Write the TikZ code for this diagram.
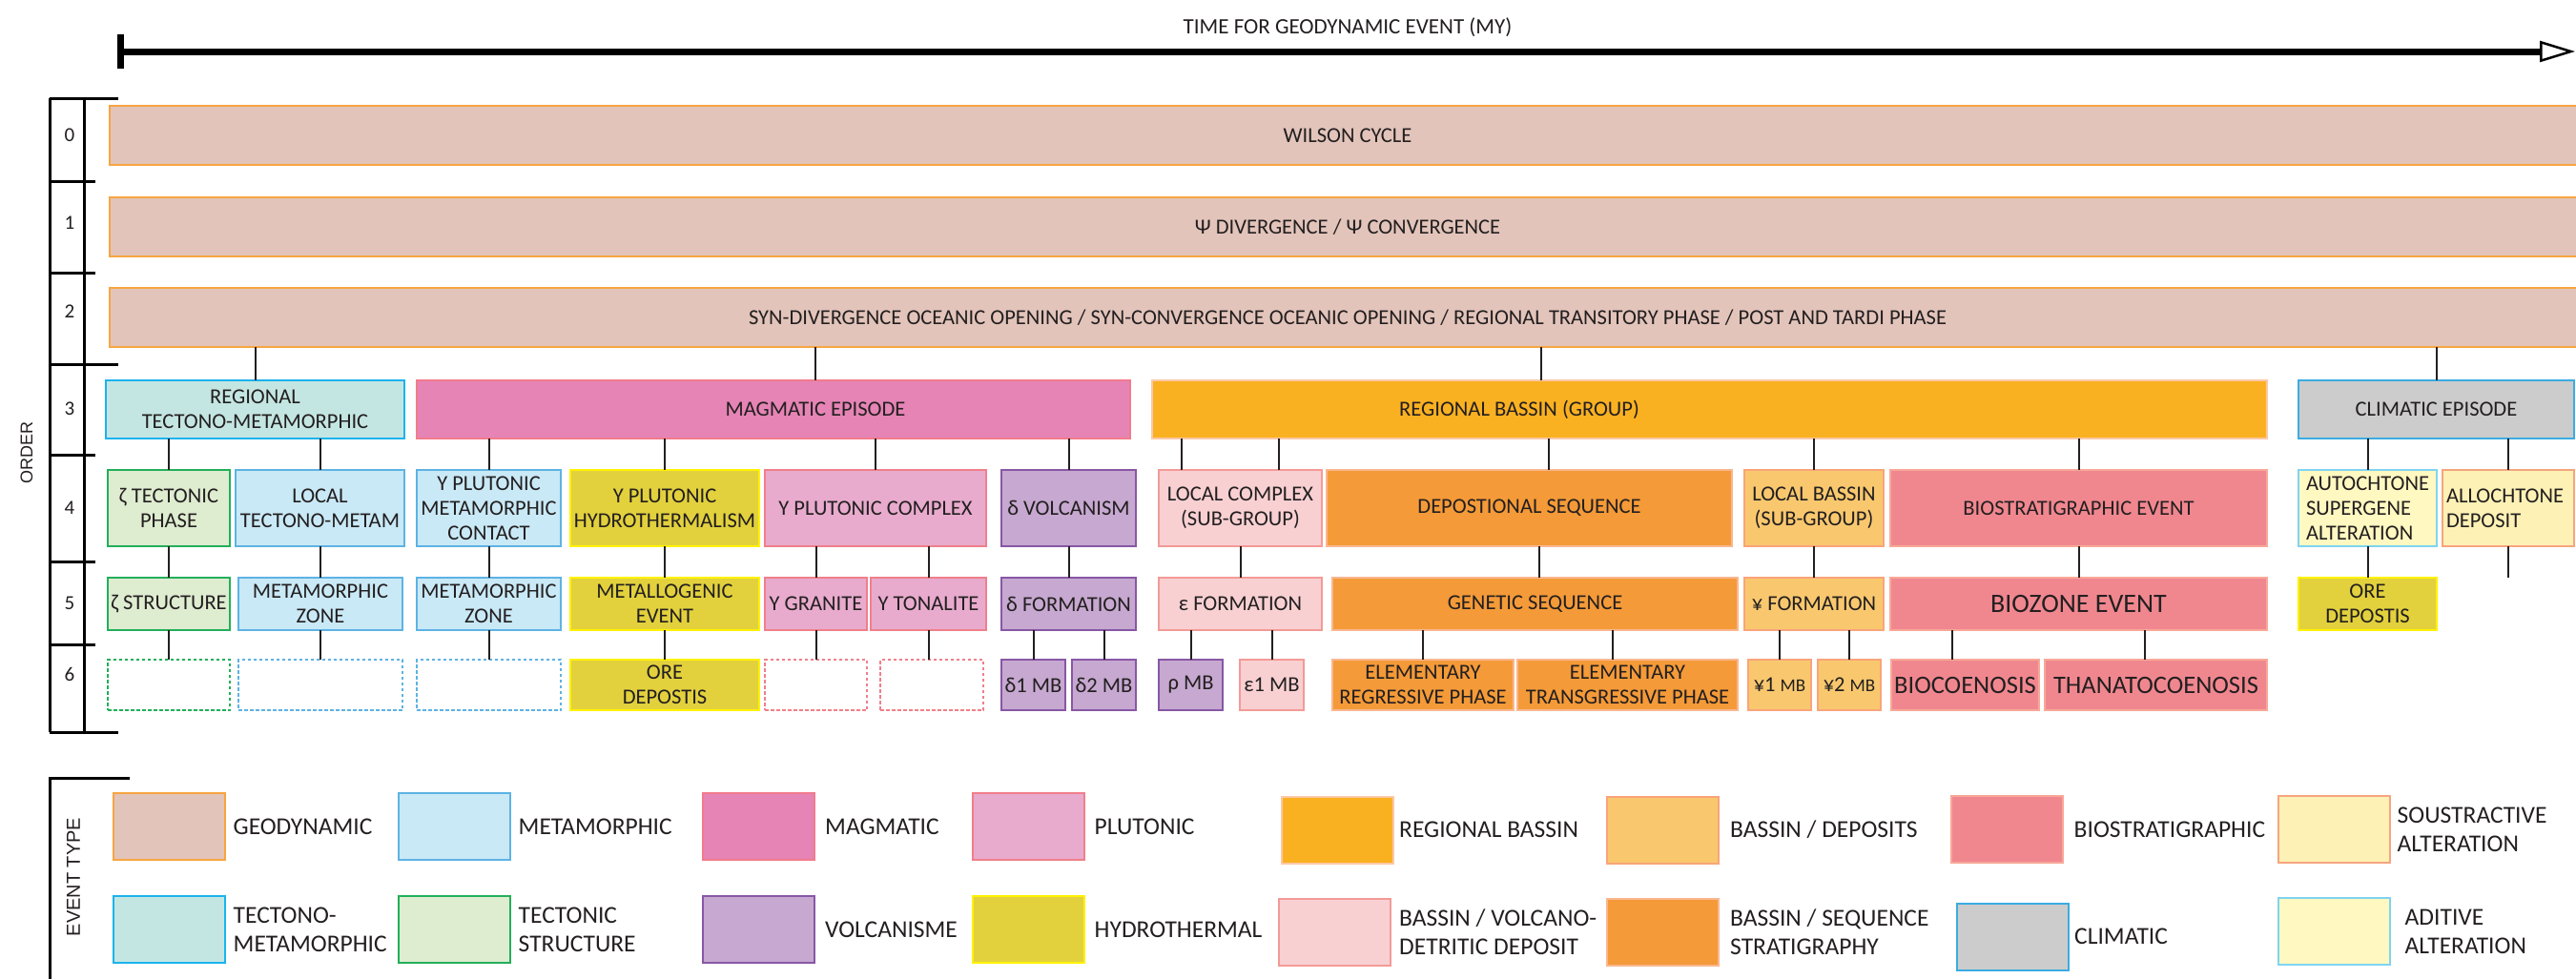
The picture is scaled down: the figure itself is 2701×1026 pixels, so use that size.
\documentclass[tikz,border=0pt]{standalone}
\usepackage{fontspec}
\setmainfont{Carlito}
\newfontfamily\axisfont{Liberation Sans}
\usepackage{xcolor}
\definecolor{ink}{HTML}{231F20}
\definecolor{geo-fill}{HTML}{E2C4BA}
\definecolor{geo-line}{HTML}{F7A541}
\definecolor{met-fill}{HTML}{C9E9F6}
\definecolor{met-line}{HTML}{5DB3E4}
\definecolor{mag-fill}{HTML}{E584B5}
\definecolor{mag-line}{HTML}{F27B8C}
\definecolor{plu-fill}{HTML}{E8ABCD}
\definecolor{plu-line}{HTML}{F07F8A}
\definecolor{reg-fill}{HTML}{FAB121}
\definecolor{reg-line}{HTML}{FBC8A8}
\definecolor{dep-fill}{HTML}{F9C86E}
\definecolor{dep-line}{HTML}{F9A47A}
\definecolor{bio-fill}{HTML}{F0878F}
\definecolor{bio-line}{HTML}{F8A898}
\definecolor{sou-fill}{HTML}{FDF1B5}
\definecolor{sou-line}{HTML}{F6A57D}
\definecolor{tm-fill}{HTML}{C4E6E2}
\definecolor{tm-line}{HTML}{1BB3ED}
\definecolor{tec-fill}{HTML}{DEECD0}
\definecolor{tec-line}{HTML}{22AF5A}
\definecolor{vol-fill}{HTML}{C6A8D0}
\definecolor{vol-line}{HTML}{8857A5}
\definecolor{hyd-fill}{HTML}{E2D13D}
\definecolor{hyd-line}{HTML}{FFF200}
\definecolor{vdd-fill}{HTML}{F8D0D2}
\definecolor{vdd-line}{HTML}{F49A96}
\definecolor{seq-fill}{HTML}{F49A38}
\definecolor{seq-line}{HTML}{F9B790}
\definecolor{cli-fill}{HTML}{CCCCCC}
\definecolor{cli-line}{HTML}{3BACE2}
\definecolor{add-fill}{HTML}{FFF8C1}
\definecolor{add-line}{HTML}{7FD4F1}
\usepackage{tikz}
\usetikzlibrary{positioning}
\usetikzlibrary{arrows.meta}
\tikzset{box/.style = {draw, line width=2pt, inner sep=0pt, outer sep=0pt, align=center, text=ink}}
\tikzset{geo/.style = {box, fill=geo-fill, draw=geo-line}}
\tikzset{met/.style = {box, fill=met-fill, draw=met-line}}
\tikzset{mag/.style = {box, fill=mag-fill, draw=mag-line}}
\tikzset{plu/.style = {box, fill=plu-fill, draw=plu-line}}
\tikzset{reg/.style = {box, fill=reg-fill, draw=reg-line}}
\tikzset{dep/.style = {box, fill=dep-fill, draw=dep-line}}
\tikzset{bio/.style = {box, fill=bio-fill, draw=bio-line}}
\tikzset{sou/.style = {box, fill=sou-fill, draw=sou-line}}
\tikzset{tm/.style = {box, fill=tm-fill, draw=tm-line}}
\tikzset{tec/.style = {box, fill=tec-fill, draw=tec-line}}
\tikzset{vol/.style = {box, fill=vol-fill, draw=vol-line}}
\tikzset{hyd/.style = {box, fill=hyd-fill, draw=hyd-line}}
\tikzset{vdd/.style = {box, fill=vdd-fill, draw=vdd-line}}
\tikzset{seq/.style = {box, fill=seq-fill, draw=seq-line}}
\tikzset{cli/.style = {box, fill=cli-fill, draw=cli-line}}
\tikzset{add/.style = {box, fill=add-fill, draw=add-line}}
\tikzset{void/.style = {box, fill=white, dash pattern=on 3.5pt off 2.5pt}}
\tikzset{txt/.style = {inner sep=0pt, text=ink}}
\tikzset{key/.style = {minimum width=117pt, minimum height=70pt}}
\tikzset{legtxt/.style = {inner sep=0pt, align=left, text=ink, font=\fontsize{25.5}{30}\selectfont}}
\tikzset{link/.style = {line width=2pt, draw=ink}}
\tikzset{rule/.style = {line width=3pt, draw=black}}
\tikzset{timeline/.style = {line width=7pt, draw=black, {Bar[width=36pt]}-{Triangle[open, length=37pt, width=22pt, line width=2.5pt]}}}

\begin{document}
\begin{tikzpicture}[x=1pt, y=-1pt,
  font=\fontsize{22.5}{26}\selectfont
]
\useasboundingbox (0,0) rectangle (2701,1026);

\node[txt, anchor=base, font=\fontsize{23}{26}\selectfont] (title) at (1413,35) {TIME FOR GEODYNAMIC EVENT (MY)};
\coordinate (t0) at (123,54);
\coordinate (t1) at (2700,54);
\draw[timeline] (t0) -- (t1);

% order scale
\draw[rule] (52,103) -- (52,768);
\draw[rule] (88,103) -- (88,768);
\foreach \y in {103,382,768} \draw[rule] (52,\y) -- (124,\y);
\foreach \y in {190,286,477,589,676} \draw[rule] (52,\y) -- (100,\y);
\foreach \n/\y in {0/142,1/234,2/327,3/429,4/533,5/633,6/707}
  \node[txt, font=\fontsize{21}{24}\selectfont] (o\n) at (73,\y) {\n};
\node[txt, rotate=90, font=\axisfont\fontsize{18}{20}\selectfont] (order) at (28,475) {ORDER};

\node[geo, minimum width=2596pt, minimum height=62pt] (r0) at (1413,142) {WILSON CYCLE};
\node[geo, minimum width=2596pt, minimum height=62pt] (r1) at (1413,238) {Ψ DIVERGENCE / Ψ CONVERGENCE};
\node[geo, minimum width=2596pt, minimum height=62pt] (r2) at (1413,333) {SYN-DIVERGENCE OCEANIC OPENING / SYN-CONVERGENCE OCEANIC OPENING / REGIONAL TRANSITORY PHASE / POST AND TARDI PHASE};

\node[tm, minimum width=313pt, minimum height=61pt] (r3a) at (267.5,429.5) {REGIONAL\\TECTONO-METAMORPHIC};
\node[mag, minimum width=748pt, minimum height=61pt] (r3b) at (811,429.5) {};
\node[txt] (t3b) at ([xshift=44pt]r3b.center) {MAGMATIC EPISODE};
\node[reg, minimum width=1169pt, minimum height=61pt] (r3c) at (1792.5,429.5) {};
\node[txt] (t3c) at ([xshift=-199.5pt]r3c.center) {REGIONAL BASSIN (GROUP)};
\node[cli, minimum width=289pt, minimum height=61pt] (r3d) at (2554.5,429.5) {CLIMATIC EPISODE};

\node[tec, minimum width=128pt, minimum height=80pt] (r4a) at (177,533) {ζ TECTONIC\\PHASE};
\node[met, minimum width=177pt, minimum height=80pt] (r4b) at (335.5,533) {LOCAL\\TECTONO-METAM};
\node[met, minimum width=151pt, minimum height=80pt] (r4c) at (512.5,533) {Y PLUTONIC\\METAMORPHIC\\CONTACT};
\node[hyd, minimum width=198pt, minimum height=80pt] (r4d) at (697,533) {Y PLUTONIC\\HYDROTHERMALISM};
\node[plu, minimum width=232pt, minimum height=80pt] (r4e) at (918,533) {Y PLUTONIC COMPLEX};
\node[vol, minimum width=141pt, minimum height=80pt] (r4f) at (1120.5,533) {δ VOLCANISM};
\node[vdd, minimum width=171pt, minimum height=80pt] (r4g) at (1300.5,533) {LOCAL COMPLEX\\(SUB-GROUP)};
\node[seq, minimum width=425pt, minimum height=80pt] (r4h) at (1603.5,533) {DEPOSTIONAL SEQUENCE};
\node[dep, minimum width=146pt, minimum height=80pt] (r4i) at (1902,533) {LOCAL BASSIN\\(SUB-GROUP)};
\node[bio, minimum width=395pt, minimum height=80pt] (r4j) at (2179.5,533) {BIOSTRATIGRAPHIC EVENT};
\node[add, minimum width=145pt, minimum height=80pt, text width=129pt, inner xsep=8pt, align=left] (r4k) at (2482.5,533) {AUTOCHTONE\\SUPERGENE\\ALTERATION};
\node[sou, minimum width=138pt, minimum height=80pt, text width=130pt, inner xsep=4pt, align=left] (r4l) at (2630,533) {ALLOCHTONE\\DEPOSIT};
\coordinate (r5m) at (2630,606);

\node[tec, minimum width=128pt, minimum height=55pt] (r5a) at (177,633.5) {ζ STRUCTURE};
\node[met, minimum width=172pt, minimum height=55pt] (r5b) at (336,633.5) {METAMORPHIC\\ZONE};
\node[met, minimum width=151pt, minimum height=55pt] (r5c) at (512.5,633.5) {METAMORPHIC\\ZONE};
\node[hyd, minimum width=198pt, minimum height=55pt] (r5d) at (697,633.5) {METALLOGENIC\\EVENT};
\node[plu, minimum width=107pt, minimum height=55pt] (r5e) at (855.5,633.5) {Y GRANITE};
\node[plu, minimum width=121pt, minimum height=55pt] (r5f) at (973.5,633.5) {Y TONALITE};
\node[vol, minimum width=141pt, minimum height=55pt] (r5g) at (1120.5,633.5) {δ FORMATION};
\node[vdd, minimum width=171pt, minimum height=55pt] (r5h) at (1300.5,633.5) {ε FORMATION};
\node[seq, minimum width=425pt, minimum height=55pt] (r5i) at (1609.5,633.5) {GENETIC SEQUENCE};
\node[dep, minimum width=146pt, minimum height=55pt] (r5j) at (1902,633.5) {¥ FORMATION};
\node[bio, minimum width=395pt, minimum height=55pt, font=\fontsize{28}{30}\selectfont] (r5k) at (2179.5,633.5) {BIOZONE EVENT};
\node[hyd, minimum width=145pt, minimum height=55pt] (r5l) at (2482.5,633.5) {ORE\\DEPOSTIS};

\node[void, draw=tec-line, minimum width=128pt, minimum height=53pt] (r6a) at (177,718.5) {};
\node[void, draw=met-line, minimum width=172pt, minimum height=53pt] (r6b) at (336,718.5) {};
\node[void, draw=met-line, minimum width=151pt, minimum height=53pt] (r6c) at (512.5,718.5) {};
\node[hyd, minimum width=198pt, minimum height=53pt] (r6d) at (697,718.5) {ORE\\DEPOSTIS};
\node[void, draw=plu-line, minimum width=107pt, minimum height=53pt] (r6e) at (855.5,718.5) {};
\node[void, draw=plu-line, minimum width=108pt, minimum height=53pt] (r6f) at (977,718.5) {};
\node[vol, minimum width=67pt, minimum height=53pt] (r6g) at (1083.5,718.5) {δ1 MB};
\node[vol, minimum width=67pt, minimum height=53pt] (r6h) at (1157.5,718.5) {δ2 MB};
\node[vol, minimum width=67pt, minimum height=53pt] (r6i) at (1248.5,718.5) {ρ MB};
\node[vdd, minimum width=67pt, minimum height=53pt] (r6j) at (1333.5,718.5) {ε1 MB};
\node[seq, minimum width=190pt, minimum height=53pt] (r6k) at (1492,718.5) {ELEMENTARY\\REGRESSIVE PHASE};
\node[seq, minimum width=231pt, minimum height=53pt] (r6l) at (1706.5,718.5) {ELEMENTARY\\TRANSGRESSIVE PHASE};
\node[dep, minimum width=66pt, minimum height=53pt] (r6m) at (1866,718.5) {¥1 {\fontsize{19}{22}\selectfont MB}};
\node[dep, minimum width=66pt, minimum height=53pt] (r6n) at (1939,718.5) {¥2 {\fontsize{19}{22}\selectfont MB}};
\node[bio, minimum width=155pt, minimum height=53pt, font=\fontsize{26.5}{30}\selectfont] (r6o) at (2060.5,718.5) {BIOCOENOSIS};
\node[bio, minimum width=233pt, minimum height=53pt, font=\fontsize{26.5}{30}\selectfont] (r6p) at (2260.5,718.5) {THANATOCOENOSIS};

\draw[link] (r3a.north) -- (r3a.north |- r2.south);
\draw[link] ([xshift=44pt]r3b.north) -- ([xshift=44pt]r3b.north |- r2.south);
\draw[link] ([xshift=-176.5pt]r3c.north) -- ([xshift=-176.5pt]r3c.north |- r2.south);
\draw[link] (r3d.north) -- (r3d.north |- r2.south);

\draw[link] (r4a.north) -- (r4a.north |- r3a.south);
\draw[link] (r4b.north) -- (r4b.north |- r3a.south);
\draw[link] (r4c.north) -- (r4c.north |- r3b.south);
\draw[link] (r4d.north) -- (r4d.north |- r3b.south);
\draw[link] (r4e.north) -- (r4e.north |- r3b.south);
\draw[link] (r4f.north) -- (r4f.north |- r3b.south);
\draw[link] ([xshift=-61.5pt]r4g.north) -- ([xshift=-61.5pt]r4g.north |- r3c.south);
\draw[link] ([xshift=40.5pt]r4g.north) -- ([xshift=40.5pt]r4g.north |- r3c.south);
\draw[link] ([xshift=20.5pt]r4h.north) -- ([xshift=20.5pt]r4h.north |- r3c.south);
\draw[link] (r4i.north) -- (r4i.north |- r3c.south);
\draw[link] (r4j.north) -- (r4j.north |- r3c.south);
\draw[link] (r4k.north) -- (r4k.north |- r3d.south);
\draw[link] (r4l.north) -- (r4l.north |- r3d.south);

\draw[link] (r4a) -- (r5a);
\draw[link] (r5b.north) -- (r5b.north |- r4b.south);
\draw[link] (r4c) -- (r5c);
\draw[link] (r4d) -- (r5d);
\draw[link] (r5e.north) -- (r5e.north |- r4e.south);
\draw[link] (r5f.north) -- (r5f.north |- r4e.south);
\draw[link] (r4f.south) -- (r4f.south |- r5g.north);
\draw[link] (r4g) -- (r5h);
\draw[link] ([xshift=4.5pt]r5i.north) -- ([xshift=4.5pt]r5i.north |- r4h.south);
\draw[link] (r4i) -- (r5j);
\draw[link] (r4j) -- (r5k);
\draw[link] (r4k) -- (r5l);
\draw[link] (r4l) -- (r5m);

\draw[link] (r5a) -- (r6a);
\draw[link] (r6b.north) -- (r6b.north |- r5b.south);
\draw[link] (r5c) -- (r6c);
\draw[link] (r5d) -- (r6d);
\draw[link] (r5e) -- (r6e);
\draw[link] (r5f.south) -- (r5f.south |- r6f.north);
\draw[link] (r6g.north) -- (r6g.north |- r5g.south);
\draw[link] (r6h.north) -- (r6h.north |- r5g.south);
\draw[link] (r6i.north) -- (r6i.north |- r5h.south);
\draw[link] (r6j.north) -- (r6j.north |- r5h.south);
\draw[link] (r6k.north) -- (r6k.north |- r5i.south);
\draw[link] ([xshift=-15.5pt]r6l.north) -- ([xshift=-15.5pt]r6l.north |- r5i.south);
\draw[link] (r6m.north) -- (r6m.north |- r5j.south);
\draw[link] (r6n.north) -- (r6n.north |- r5j.south);
\draw[link] ([xshift=-13.5pt]r6o.north) -- ([xshift=-13.5pt]r6o.north |- r5k.south);
\draw[link] ([xshift=-11.5pt]r6p.north) -- ([xshift=-11.5pt]r6p.north |- r5k.south);

% event type key
\draw[rule] (136,816) -- (52,816) -- (52,1030);
\node[txt, rotate=90, font=\axisfont\fontsize{20}{22}\selectfont] (etype) at (77,920) {EVENT TYPE};

\node[geo, key] (l1) at (177,867) {};
\node[legtxt, right=9pt of l1] (k1) {GEODYNAMIC};
\node[met, key] (l2) at (476,867) {};
\node[legtxt, right=9pt of l2] (k2) {METAMORPHIC};
\node[mag, key] (l3) at (795.5,867) {};
\node[legtxt, right=11pt of l3] (k3) {MAGMATIC};
\node[plu, key] (l4) at (1078,867) {};
\node[legtxt, right=11pt of l4] (k4) {PLUTONIC};
\node[reg, key] (l5) at (1402.5,870.5) {};
\node[legtxt, right=6pt of l5] (k5) {REGIONAL BASSIN};
\node[dep, key] (l6) at (1743.5,870.5) {};
\node[legtxt, right=12pt of l6] (k6) {BASSIN / DEPOSITS};
\node[bio, key] (l7) at (2104,870) {};
\node[legtxt, right=12pt of l7] (k7) {BIOSTRATIGRAPHIC};
\node[sou, key] (l8) at (2447,870) {};
\node[legtxt, right=8pt of l8] (k8) {SOUSTRACTIVE\\ALTERATION};

\node[tm, key] (l9) at (177,975) {};
\node[legtxt, right=9pt of l9] (k9) {TECTONO-\\METAMORPHIC};
\node[tec, key] (l10) at (476,975) {};
\node[legtxt, right=9pt of l10] (k10) {TECTONIC\\STRUCTURE};
\node[vol, key] (l11) at (795.5,975) {};
\node[legtxt, right=11pt of l11] (k11) {VOLCANISME};
\node[hyd, key] (l12) at (1078,975) {};
\node[legtxt, right=11pt of l12] (k12) {HYDROTHERMAL};
\node[vdd, key] (l13) at (1399.5,978) {};
\node[legtxt, right=9pt of l13] (k13) {BASSIN / VOLCANO-\\DETRITIC DEPOSIT};
\node[seq, key] (l14) at (1743.5,978) {};
\node[legtxt, right=12pt of l14] (k14) {BASSIN / SEQUENCE\\STRATIGRAPHY};
\node[cli, key] (l15) at (2110.5,982.5) {};
\node[legtxt, right=6pt of l15] (k15) {CLIMATIC};
\node[add, key] (l16) at (2447,977) {};
\node[legtxt, right=16pt of l16] (k16) {ADITIVE\\ALTERATION};

\end{tikzpicture}
\end{document}
